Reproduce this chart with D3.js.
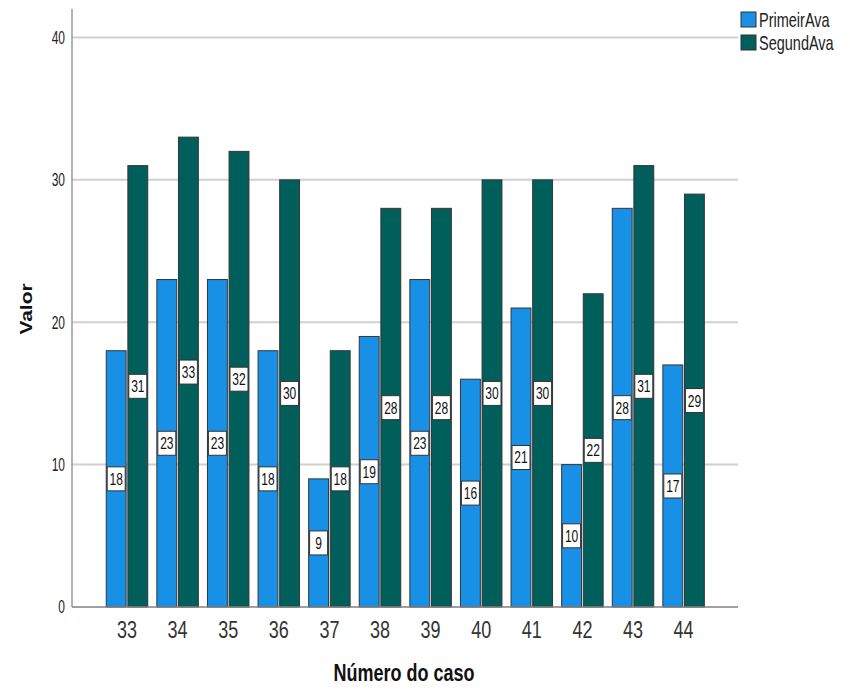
<!DOCTYPE html>
<html>
<head>
<meta charset="utf-8">
<script src="https://cdn.jsdelivr.net/npm/d3@7"></script>
<style>
  body { margin: 0; background: #fff; }
  svg { font-family: "Liberation Sans", Arial, sans-serif; }
</style>
</head>
<body>
<svg id="chart" width="850" height="690"></svg>
<script>
const cases = ["33","34","35","36","37","38","39","40","41","42","43","44"];
const primeirAva = [18,23,23,18,9,19,23,16,21,10,28,17];
const segundAva  = [31,33,32,30,18,28,28,30,30,22,31,29];
const seriesNames = ["PrimeirAva","SegundAva"];
const yTicks = [0,10,20,30,40];

const colors = ["#1790e6", "#005e5b"];
const svg = d3.select("#chart");

const plot = { left: 72, right: 738, top: 9, bottom: 607 };

const x = d3.scaleBand().domain(cases).range([101.7, 708.9]).paddingInner(0.18).paddingOuter(0.09);
const xs = d3.scaleBand().domain(seriesNames).range([0, x.bandwidth()]).paddingInner(0.08);
const y = d3.scaleLinear().domain([0, 42]).range([plot.bottom, plot.top]);

// text drawn with a vertical stretch (tall, narrow glyphs)
function tallText(sel, cx, cy, k, size, anchor) {
  return sel.append("text")
    .attr("transform", `translate(${cx},${cy}) scale(1,${k})`)
    .attr("text-anchor", anchor || "middle")
    .attr("dy", "0.36em")
    .attr("font-size", size);
}

// gridlines
svg.append("g").selectAll("line").data(yTicks.filter(t => t > 0)).join("line")
  .attr("x1", plot.left).attr("x2", plot.right)
  .attr("y1", d => y(d)).attr("y2", d => y(d))
  .attr("stroke", "#d0d0d0").attr("stroke-width", 2);

// y tick labels
const yt = svg.append("g");
yTicks.forEach(t => tallText(yt, 65, y(t), 1.5, 12, "end").attr("fill", "#222").text(t));
svg.append("line").attr("x1", plot.left).attr("x2", plot.left)
  .attr("y1", plot.top).attr("y2", plot.bottom).attr("stroke", "#999").attr("stroke-width", 1.5);

// bars
const rows = cases.map((c, i) => ({ c, vals: [primeirAva[i], segundAva[i]] }));
const groups = svg.append("g").selectAll("g").data(rows).join("g")
  .attr("transform", d => `translate(${x(d.c)},0)`);

groups.selectAll("rect").data(d => d.vals.map((v, k) => ({ v, k }))).join("rect")
  .attr("x", d => xs(seriesNames[d.k]))
  .attr("width", xs.bandwidth())
  .attr("y", d => y(d.v))
  .attr("height", d => y(0) - y(d.v))
  .attr("fill", d => colors[d.k])
  .attr("stroke", "#363636").attr("stroke-width", 1);

// value labels at mid-height of each bar
const lab = groups.selectAll("g.lab").data(d => d.vals.map((v, k) => ({ v, k }))).join("g")
  .attr("class", "lab")
  .attr("transform", d => `translate(${xs(seriesNames[d.k]) + xs.bandwidth() / 2},${(y(d.v) + y(0)) / 2})`);
lab.append("rect")
  .attr("x", -9).attr("y", -12).attr("width", 18).attr("height", 24)
  .attr("fill", "#fff").attr("stroke", "#333").attr("stroke-width", 1);
lab.each(function(d) {
  tallText(d3.select(this), 0, 0, 1.38, 12, "middle").attr("fill", "#111").text(d.v);
});

// x axis
svg.append("line").attr("x1", plot.left).attr("x2", plot.right)
  .attr("y1", plot.bottom).attr("y2", plot.bottom).attr("stroke", "#808080").attr("stroke-width", 1.5);
const xt = svg.append("g");
cases.forEach(c => tallText(xt, x(c) + x.bandwidth() / 2, 630, 1.3, 18, "middle").attr("fill", "#333").text(c));

// axis titles
tallText(svg, 404, 673, 1.28, 18, "middle")
  .attr("font-weight", "bold").attr("fill", "#111").text("Número do caso");
svg.append("text")
  .attr("transform", "translate(26,309) rotate(-90) scale(1.27,1)")
  .attr("text-anchor", "middle").attr("dy", "0.36em")
  .attr("font-size", 16.5).attr("font-weight", "bold").attr("fill", "#111").text("Valor");

// legend
const legend = svg.append("g").selectAll("g").data(seriesNames).join("g")
  .attr("transform", (d, i) => `translate(741,${12 + i * 23})`);
legend.append("rect").attr("width", 15).attr("height", 15)
  .attr("fill", (d, i) => colors[i]).attr("stroke", "#333").attr("stroke-width", 1);
legend.each(function(d) {
  tallText(d3.select(this), 18, 7.5, 1.45, 14.5, "start").attr("fill", "#222").text(d);
});
</script>
</body>
</html>
